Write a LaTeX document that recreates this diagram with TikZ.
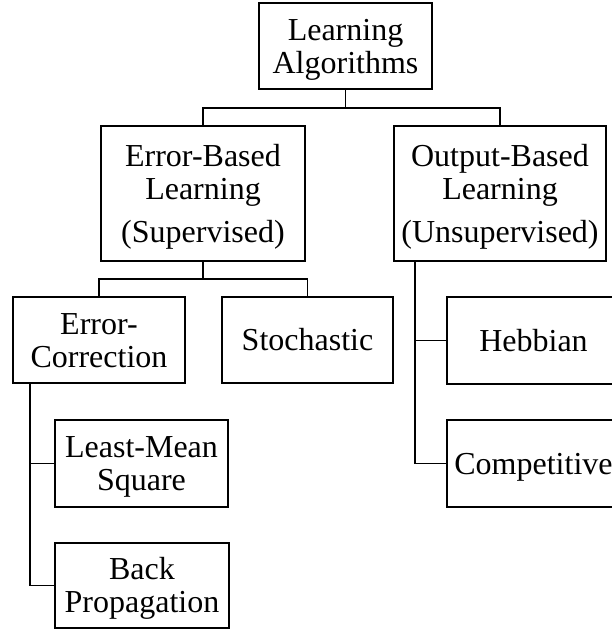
\documentclass[tikz,border=0pt]{standalone}
\usepackage{fontspec}
\setmainfont{Liberation Serif}

% one text line, vertically centred on its capital height
\newcommand{\capline}[1]{\smash{#1}\rule{0pt}{0.662em}}

\begin{document}
\begin{tikzpicture}[x=1pt,y=-1pt,
  box/.style={draw, line width=1.2pt, inner sep=0pt, align=center,
    font=\fontsize{32}{33}\selectfont},
  link/.style={draw, line width=1.2pt}]
\useasboundingbox (0,0) rectangle (612,630);
\clip (0,0) rectangle (612,630);

% root
\node[box, minimum width=173, minimum height=86] (la) at (345.5,46)
  {\capline{Learning}\\\capline{Algorithms}};

% second level
\node[box, minimum width=204, minimum height=135] (eb) at (203,193.5)
  {\capline{Error-Based}\\\capline{Learning}\\[10pt]\capline{(Supervised)}};
\node[box, minimum width=212, minimum height=135] (ob) at (500,193.5)
  {\capline{Output-Based}\\\capline{Learning}\\[10pt]\capline{(Unsupervised)}};

% supervised branch
\node[box, minimum width=172, minimum height=86] (ec) at (99,340)
  {\capline{Error-}\\\capline{Correction}};
\node[box, minimum width=171, minimum height=86] (st) at (307.5,340)
  {\capline{Stochastic}};
\node[box, minimum width=173, minimum height=87] (lms) at (141.5,463.5)
  {\capline{Least-Mean}\\\capline{Square}};
\node[box, minimum width=174, minimum height=85] (bp) at (142,585.5)
  {\capline{Back}\\\capline{Propagation}};

% unsupervised branch
\node[box, minimum width=173, minimum height=87] (hb) at (533.5,340.5)
  {\capline{Hebbian}};
\node[box, minimum width=173, minimum height=87] (cp) at (533.5,463.5)
  {\capline{Competitive}};

% root to second level
\coordinate (bus1) at (345.5,108);
\draw[link] (la.south) -- (bus1);
\draw[link] (eb.north) |- (bus1) -| (ob.north);

% supervised split
\coordinate (bus2) at (203,279);
\draw[link] (eb.south) -- (bus2);
\draw[link] (ec.north) |- (bus2) -| (st.north);

% error-correction methods
\coordinate (ecr) at (30,383);
\draw[link] (ecr) |- (bp.west);
\draw[link] (ecr |- lms.west) -- (lms.west);

% unsupervised methods
\coordinate (obr) at (415,261);
\draw[link] (obr) |- (cp.west);
\draw[link] (obr |- hb.west) -- (hb.west);
\end{tikzpicture}
\end{document}
